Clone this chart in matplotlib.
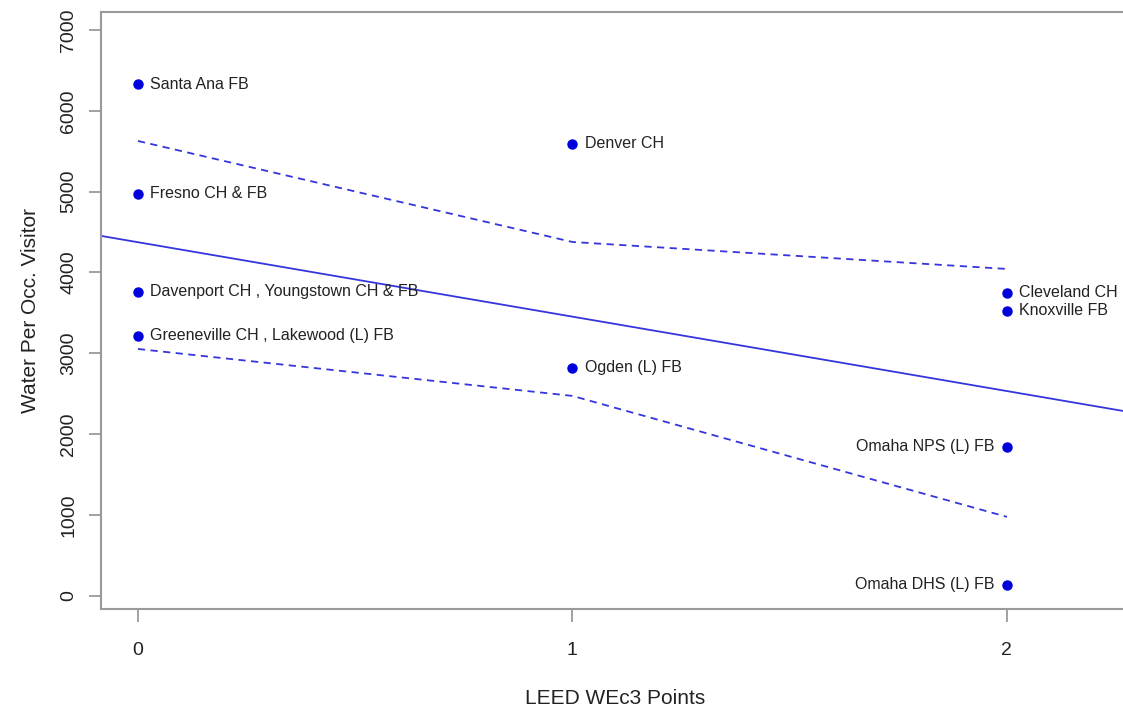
import matplotlib
matplotlib.use('Agg')
import matplotlib.pyplot as plt

plt.rcParams['font.family'] = ['Liberation Sans', 'DejaVu Sans']

# точки: баллы LEED WEc3 и расход воды
points_x = [0, 0, 0, 0, 1, 1, 2, 2, 2, 2]
points_y = [6330, 4975, 3760, 3215, 5590, 2820, 3750, 3525, 1840, 135]
names = ['Santa Ana FB', 'Fresno CH & FB', 'Davenport CH , Youngstown CH & FB',
         'Greeneville CH , Lakewood (L) FB', 'Denver CH', 'Ogden (L) FB',
         'Cleveland CH', 'Knoxville FB', 'Omaha NPS (L) FB', 'Omaha DHS (L) FB']
label_side = ['r', 'r', 'r', 'r', 'r', 'r', 'r', 'r', 'l', 'l']

# линия регрессии
fit_intercept = 4374
fit_slope = -921

# доверительные границы
band_x = [0, 1, 2]
band_upper = [5627, 4377, 4043]
band_lower = [3053, 2472, 975]

x_ticks = [0, 1, 2]
y_ticks = [0, 1000, 2000, 3000, 4000, 5000, 6000, 7000]

W, H = 1123, 711
fig = plt.figure(figsize=(W / 100, H / 100), dpi=100)
ax = fig.add_axes([101 / W, 1 - 609 / H, (1126 - 101) / W, (609 - 12) / H])

x_lo, x_hi = -0.085, -0.085 + (1126 - 101) / 434.5
ax.set_xlim(x_lo, x_hi)
ax.set_ylim(-165, 7223)

blue = '#0000dd'
line_blue = '#3535dd'

ax.plot([x_lo, x_hi], [fit_intercept + fit_slope * x_lo, fit_intercept + fit_slope * x_hi],
        color=line_blue, lw=1.3)
ax.plot(band_x, band_upper, color=line_blue, lw=1.3, ls=(0, (4, 3)))
ax.plot(band_x, band_lower, color=line_blue, lw=1.3, ls=(0, (4, 3)))

ax.plot(points_x, points_y, 'o', color=blue, ms=6.5, mec=blue)

for xv, yv, name, side in zip(points_x, points_y, names, label_side):
    if side == 'r':
        ax.annotate(name, (xv, yv), xytext=(9, 0), textcoords='offset points',
                    ha='left', va='center', fontsize=11.5, color='#222222')
    else:
        ax.annotate(name, (xv, yv), xytext=(-9, 0), textcoords='offset points',
                    ha='right', va='center', fontsize=11.5, color='#222222')

spine_col = '#9a9a9a'
for s in ['left', 'bottom', 'top']:
    ax.spines[s].set_color(spine_col)
    ax.spines[s].set_linewidth(1.5)
ax.spines['right'].set_visible(False)

ax.set_xticks(x_ticks)
ax.set_yticks(y_ticks)
ax.set_yticklabels([str(v) for v in y_ticks], rotation=90, va='center')
ax.tick_params(axis='both', length=9, width=1.3, color=spine_col, labelsize=14,
               labelcolor='#222222')
ax.tick_params(axis='x', pad=15)
ax.tick_params(axis='y', pad=8)

ax.set_xlabel('LEED WEc3 Points', fontsize=15, color='#222222')
ax.xaxis.set_label_coords((615 - 101) / 1025, (609 - 689) / 597)
ax.set_ylabel('Water Per Occ. Visitor', fontsize=15, color='#222222', labelpad=15)

fig.savefig('out.png', dpi=100)
